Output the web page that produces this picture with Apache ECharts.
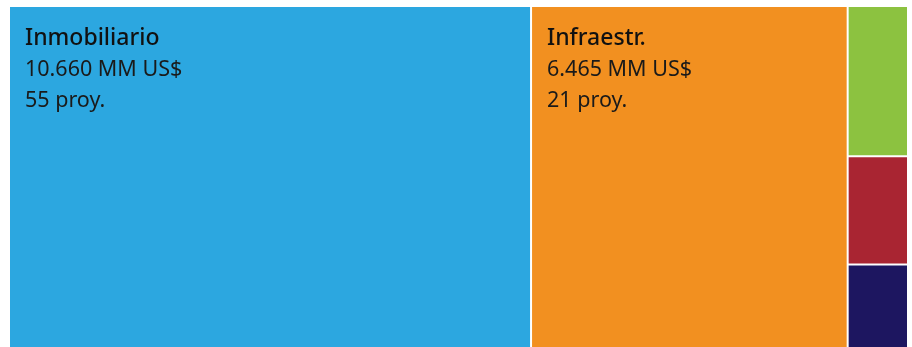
<!DOCTYPE html>
<html>
<head>
<meta charset="utf-8">
<script src="https://cdn.jsdelivr.net/npm/echarts@6/dist/echarts.min.js"></script>
<style>
  html, body { margin: 0; padding: 0; background: #fff; }
  #chart { width: 912px; height: 347px; }
</style>
</head>
<body>
<div id="chart"></div>
<script>
// Investment by sector (MM US$) and number of projects
const sectors  = ['Inmobiliario', 'Infraestr.', 'Sector 3', 'Sector 4', 'Sector 5'];
const amounts  = [10660, 6465, 541, 390, 301];
const projects = [55, 21, null, null, null];
const colors   = ['#2ca7e0', '#f29020', '#8cc240', '#a92532', '#1d1660'];
const labelled = [true, true, false, false, false];

function fmtThousands(v) {
  return String(v).replace(/\B(?=(\d{3})+(?!\d))/g, '.');
}

const data = sectors.map((name, i) => ({
  name,
  value: amounts[i],
  proy: projects[i],
  itemStyle: { color: colors[i] },
  label: { show: labelled[i] }
}));

const chart = echarts.init(document.getElementById('chart'), null, { renderer: 'canvas' });
chart.setOption({
  animation: false,
  series: [{
    type: 'treemap',
    left: 10,
    top: 7,
    right: 5,
    bottom: 0,
    roam: false,
    nodeClick: false,
    breadcrumb: { show: false },
    sort: 'desc',
    levels: [{
      itemStyle: { gapWidth: 2, borderWidth: 0, borderColor: '#fff' }
    }, {
      itemStyle: { borderWidth: 0 }
    }],
    label: {
      position: 'insideTopLeft',
      distance: 0,
      padding: [16, 0, 0, 15],
      fontFamily: 'Noto Sans',
      formatter: function (p) {
        return '{n|' + p.name + '}\n{v|' + fmtThousands(p.value) + ' MM US$}\n{v|' + p.data.proy + ' proy.}';
      },
      rich: {
        n: { fontSize: 23, fontWeight: 500, color: '#111', lineHeight: 31, fontFamily: 'Noto Sans' },
        v: { fontSize: 21.5, color: '#1a1a1a', lineHeight: 31, fontFamily: 'Noto Sans' }
      }
    },
    upperLabel: { show: false },
    data
  }]
});
</script>
</body>
</html>
